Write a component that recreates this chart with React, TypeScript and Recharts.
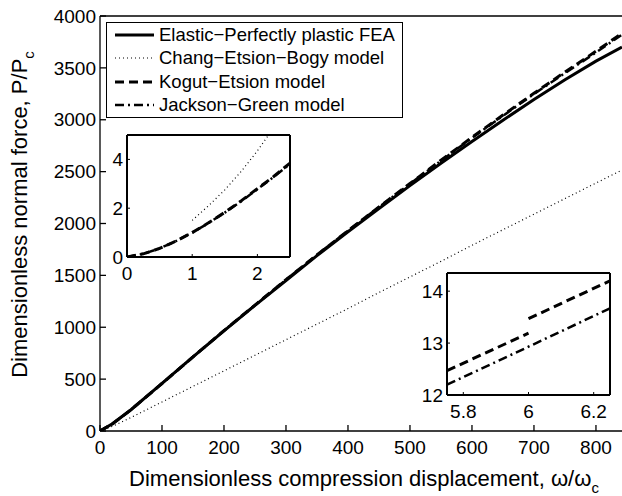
import React from 'react';
import { LineChart, Line, XAxis, YAxis, Legend, CartesianGrid } from 'recharts';

const FONT = '"Liberation Sans", Arial, Helvetica, sans-serif';

// main plot: omega/omega_c against P/P_c
const mainX = [0, 20, 50, 100, 150, 200, 250, 300, 350, 400, 450, 500, 550, 600, 650, 700, 750, 800, 842];
const feaMain = [0, 70, 205, 460, 715, 965, 1210, 1450, 1690, 1920, 2145, 2365, 2580, 2790, 2995, 3195, 3385, 3565, 3700];
const kogutMain = [0, 68, 205, 458, 714, 968, 1214, 1458, 1698, 1930, 2160, 2385, 2610, 2830, 3045, 3255, 3460, 3660, 3834];
const jacksonMain = [0, 68, 205, 458, 714, 968, 1214, 1458, 1698, 1930, 2158, 2382, 2605, 2825, 3038, 3248, 3450, 3648, 3820];
const cebMain = [0, 45, 130, 280, 430, 580, 730, 880, 1030, 1180, 1335, 1485, 1635, 1790, 1940, 2090, 2240, 2390, 2515];
const mainXTicks = [0, 100, 200, 300, 400, 500, 600, 700, 800];
const mainYTicks = [0, 500, 1000, 1500, 2000, 2500, 3000, 3500, 4000];

// left inset, small displacements
const inset1X = [0, 0.25, 0.5, 0.75, 1, 1.25, 1.5, 1.75, 2, 2.25, 2.5];
const kogutInset1 = [0, 0.13, 0.35, 0.65, 1, 1.4, 1.83, 2.3, 2.8, 3.3, 3.85];
const jacksonInset1 = [0, 0.13, 0.35, 0.65, 1, 1.39, 1.82, 2.28, 2.78, 3.28, 3.82];
const cebInset1X = [1, 1.25, 1.5, 1.75, 2, 2.25];
const cebInset1 = [1.5, 2.1, 2.75, 3.5, 4.35, 5.3];

// right inset, around omega/omega_c = 6 (Kogut-Etsion jumps at 6)
const kogutInset2X = [5.75, 6, 6, 6, 6.25];
const kogutInset2 = [12.47, 13.19, null, 13.47, 14.2];
const jacksonInset2X = [5.75, 6, 6.25];
const jacksonInset2 = [12.2, 12.93, 13.67];

const seriesNames = [
  'Elastic\u2212Perfectly plastic FEA',
  'Chang\u2212Etsion\u2212Bogy model',
  'Kogut\u2212Etsion model',
  'Jackson\u2212Green model',
];

const lineStyles = [
  { strokeWidth: 3 },
  { strokeWidth: 1.2, strokeDasharray: '1 3' },
  { strokeWidth: 3, strokeDasharray: '9 5' },
  { strokeWidth: 2.5, strokeDasharray: '9 4 2 4' },
];

const rows = (xs: number[], ys: (number | null)[]) => xs.map((x, i) => ({ x, y: ys[i] }));

const tickStyle = { fill: '#000', fontSize: 19 };

const LegendBox = () => (
  <div
    style={{
      width: 297,
      height: 96,
      boxSizing: 'border-box',
      border: '1.5px solid #000',
      background: '#fff',
      fontFamily: FONT,
    }}
  >
    {seriesNames.map((name, i) => (
      <div key={name} style={{ display: 'flex', alignItems: 'center', height: 23.5 }}>
        <svg width={52} height={10} style={{ display: 'block' }}>
          <line x1={8} y1={5} x2={47} y2={5} stroke="#000" {...lineStyles[i]} />
        </svg>
        <span style={{ fontSize: 18.5, lineHeight: 1, color: '#000', whiteSpace: 'nowrap' }}>{name}</span>
      </div>
    ))}
  </div>
);

const XTitle = (props: any) => {
  const vb = props.viewBox || { x: 100, y: 431, width: 522 };
  return (
    <text x={vb.x + vb.width / 2 + 3} y={vb.y + 55} textAnchor="middle" fontSize={22} fill="#000">
      Dimensionless compression displacement, ω/ω
      <tspan dy={7} fontSize={15}>c</tspan>
    </text>
  );
};

const YTitle = (props: any) => {
  const vb = props.viewBox || { x: 0, y: 16, height: 415 };
  const cx = 27;
  const cy = vb.y + vb.height / 2 - 9;
  return (
    <text x={cx} y={cy} transform={`rotate(-90 ${cx} ${cy})`} textAnchor="middle" fontSize={22} fill="#000">
      Dimensionless normal force, P/P
      <tspan dy={7} fontSize={15}>c</tspan>
    </text>
  );
};

interface InsetProps {
  left: number;
  top: number;
  yWidth: number;
  xDomain: [number, number];
  yDomain: [number, number];
  xTicks: number[];
  yTicks: number[];
  children: React.ReactNode;
}

// small framed chart drawn over the main one; top/right axes only give the box and inner ticks
const Inset = ({ left, top, yWidth, xDomain, yDomain, xTicks, yTicks, children }: InsetProps) => (
  <div style={{ position: 'absolute', left: left - yWidth, top: top - 10 }}>
    <LineChart width={yWidth + 163 + 7} height={160} margin={{ top: 9, right: 6, bottom: 0, left: 0 }}>
      <CartesianGrid fill="#fff" horizontal={false} vertical={false} />
      <XAxis
        type="number"
        dataKey="x"
        domain={xDomain}
        ticks={xTicks}
        interval={0}
        allowDataOverflow
        height={28}
        stroke="#000"
        axisLine={{ strokeWidth: 2 }}
        tickLine={{ strokeWidth: 1 }}
        tickSize={-3}
        tickMargin={13}
        tick={tickStyle}
      />
      <XAxis
        xAxisId="t"
        orientation="top"
        type="number"
        dataKey="x"
        domain={xDomain}
        ticks={xTicks}
        interval={0}
        allowDataOverflow
        height={1}
        stroke="#000"
        axisLine={{ strokeWidth: 2 }}
        tickLine={{ strokeWidth: 1 }}
        tickSize={-3}
        tick={false}
      />
      <YAxis
        type="number"
        domain={yDomain}
        ticks={yTicks}
        interval={0}
        allowDataOverflow
        width={yWidth}
        stroke="#000"
        axisLine={{ strokeWidth: 2 }}
        tickLine={{ strokeWidth: 1 }}
        tickSize={-3}
        tickMargin={7}
        tick={tickStyle}
      />
      <YAxis
        yAxisId="r"
        orientation="right"
        type="number"
        domain={yDomain}
        ticks={yTicks}
        interval={0}
        allowDataOverflow
        width={1}
        stroke="#000"
        axisLine={{ strokeWidth: 2 }}
        tickLine={{ strokeWidth: 1 }}
        tickSize={-3}
        tick={false}
      />
      {children}
    </LineChart>
  </div>
);

export default function App() {
  return (
    <div
      style={{
        position: 'absolute',
        left: 0,
        top: 0,
        width: 622,
        height: 496,
        background: '#fff',
        fontFamily: FONT,
        overflow: 'hidden',
      }}
    >
      <LineChart width={622} height={496} margin={{ top: 15, right: 0, bottom: 0, left: 0 }}>
        <XAxis
          type="number"
          dataKey="x"
          domain={[0, 842]}
          ticks={mainXTicks}
          interval={0}
          allowDataOverflow
          height={65}
          stroke="#000"
          axisLine={{ strokeWidth: 1.3 }}
          tickLine={{ strokeWidth: 1.3 }}
          tickSize={-6}
          tickMargin={16}
          tick={tickStyle}
          label={(p: any) => <XTitle {...p} />}
        />
        <XAxis
          xAxisId="t"
          orientation="top"
          type="number"
          dataKey="x"
          domain={[0, 842]}
          ticks={mainXTicks}
          interval={0}
          allowDataOverflow
          height={1}
          stroke="#000"
          axisLine={{ strokeWidth: 1.3 }}
          tickLine={{ strokeWidth: 1.3 }}
          tickSize={-6}
          tick={false}
        />
        <YAxis
          type="number"
          domain={[0, 4000]}
          ticks={mainYTicks}
          interval={0}
          allowDataOverflow
          width={100}
          stroke="#000"
          axisLine={{ strokeWidth: 1.3 }}
          tickLine={{ strokeWidth: 1.3 }}
          tickSize={-6}
          tickMargin={10}
          tick={tickStyle}
          label={(p: any) => <YTitle {...p} />}
        />
        <Line data={rows(mainX, feaMain)} dataKey="y" name={seriesNames[0]} stroke="#000" {...lineStyles[0]} dot={false} activeDot={false} isAnimationActive={false} />
        <Line data={rows(mainX, cebMain)} dataKey="y" name={seriesNames[1]} stroke="#000" {...lineStyles[1]} dot={false} activeDot={false} isAnimationActive={false} />
        <Line data={rows(mainX, kogutMain)} dataKey="y" name={seriesNames[2]} stroke="#000" {...lineStyles[2]} dot={false} activeDot={false} isAnimationActive={false} />
        <Line data={rows(mainX, jacksonMain)} dataKey="y" name={seriesNames[3]} stroke="#000" {...lineStyles[3]} dot={false} activeDot={false} isAnimationActive={false} />
        <Legend
          layout="vertical"
          align="center"
          verticalAlign="middle"
          wrapperStyle={{ left: 106, top: 22, width: 297 }}
          content={() => <LegendBox />}
        />
      </LineChart>

      <Inset left={127} top={135} yWidth={30} xDomain={[0, 2.5]} yDomain={[0, 5]} xTicks={[0, 1, 2]} yTicks={[0, 2, 4]}>
        <Line data={rows(cebInset1X, cebInset1)} dataKey="y" stroke="#000" {...lineStyles[1]} dot={false} activeDot={false} isAnimationActive={false} />
        <Line data={rows(inset1X, kogutInset1)} dataKey="y" stroke="#000" {...lineStyles[2]} dot={false} activeDot={false} isAnimationActive={false} />
        <Line data={rows(inset1X, jacksonInset1)} dataKey="y" stroke="#000" {...lineStyles[3]} dot={false} activeDot={false} isAnimationActive={false} />
      </Inset>

      <Inset left={447} top={273} yWidth={40} xDomain={[5.75, 6.25]} yDomain={[12, 14.35]} xTicks={[5.8, 6, 6.2]} yTicks={[12, 13, 14]}>
        <Line data={rows(kogutInset2X, kogutInset2)} dataKey="y" stroke="#000" {...lineStyles[2]} dot={false} activeDot={false} isAnimationActive={false} />
        <Line data={rows(jacksonInset2X, jacksonInset2)} dataKey="y" stroke="#000" {...lineStyles[3]} dot={false} activeDot={false} isAnimationActive={false} />
      </Inset>
    </div>
  );
}
